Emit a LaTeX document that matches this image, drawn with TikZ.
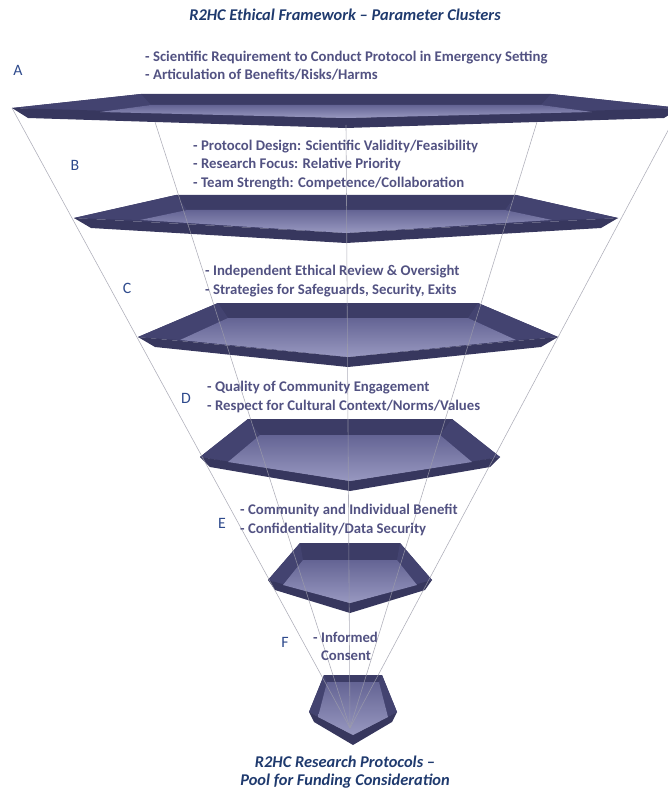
\documentclass[tikz,border=0pt]{standalone}
\usepackage{fontspec}
\setmainfont{Carlito}
\usepackage{tikz}

\definecolor{titlecol}{HTML}{1F3A6E}
\definecolor{lettercol}{HTML}{2E4A8C}
\definecolor{itemcol}{HTML}{525282}
\definecolor{rimcol}{HTML}{3C3C66}
\definecolor{sidecol}{HTML}{434370}
\definecolor{bandcol}{HTML}{37375E}
\definecolor{innertop}{HTML}{646494}
\definecolor{innerbot}{HTML}{9898C0}
\definecolor{raycol}{HTML}{9C9CAA}

\tikzset{
  itemtext/.style={text=itemcol, font=\bfseries\fontsize{12.6}{15.5}\selectfont, align=left, anchor=west, inner sep=0pt},
  letter/.style={text=lettercol, font=\fontsize{13.5}{15}\selectfont},
  heading/.style={text=titlecol, font=\bfseries\itshape\fontsize{14}{15.5}\selectfont, align=center},
  ray/.style={draw=raycol, line width=0.5pt, opacity=0.8}
}

\begin{document}
\begin{tikzpicture}[x=0.03cm,y=-0.03cm]
	\useasboundingbox (0,0) rectangle (667,791);
	
	% plates of the funnel, top to bottom
	% centre / top y / top half width / tip y / tip half width / front y / band inset / inner offsets
	\foreach \cx/\yt/\wt/\ym/\wm/\yf/\sb/\ia/\ir/\ib/\ie in {
		346/94/205/108/334/118/16/10/11/88/4,
		346/195/170/218/272/233/17/11/15/66/2,
		348/303/130/337/210/357/17/10/15/42/3,
		350/419/102/457/150/481/10/12/16/28/5,
		350/543/50/580/82/603/7/3/17/15/5,
		353/675/29/712/44/735/5/3/7/9/5}{
		% top face (rim)
		\fill[rimcol] (\cx-\wt,\yt) -- (\cx+\wt,\yt) -- (\cx+\wm,\ym) -- (\cx,\yf) -- (\cx-\wm,\ym) -- cycle;
		% side facets
		\fill[sidecol] (\cx-\wt,\yt) -- (\cx-\wt+\ia,\yt+\ir) -- (\cx-\wm+\ib,\ym+\ie) -- (\cx-\wm,\ym) -- cycle;
		\fill[sidecol] (\cx+\wt,\yt) -- (\cx+\wt-\ia,\yt+\ir) -- (\cx+\wm-\ib,\ym+\ie) -- (\cx+\wm,\ym) -- cycle;
		% front band
		\fill[bandcol] (\cx-\wm,\ym) -- (\cx,\yf) -- (\cx+\wm,\ym) -- (\cx+\wm-\sb,\ym+10) -- (\cx,\yf+10) -- (\cx-\wm+\sb,\ym+10) -- cycle;
		% inner face
		\shade[top color=innertop, bottom color=innerbot] (\cx-\wt+\ia,\yt+\ir) -- (\cx+\wt-\ia,\yt+\ir) -- (\cx+\wm-\ib,\ym+\ie) -- (\cx,\yf) -- (\cx-\wm+\ib,\ym+\ie) -- cycle;
	}
	
	% rays running down to the vanishing point
	\coordinate (v) at (350,728);
	\coordinate (p1) at (12,108);
	\coordinate (p2) at (155,122);
	\coordinate (p3) at (346,125);
	\coordinate (p4) at (537,122);
	\coordinate (p5) at (680,108);
	\foreach \p in {p1,p2,p3,p4,p5}
		\draw[ray] (\p) -- (v);
	
	% title
	\node[heading] (title) at (345,15) {R2HC Ethical Framework – Parameter Clusters};
	
	% cluster letters
	\node[letter] (la) at (18,70) {A};
	\node[letter] (lb) at (75,165) {B};
	\node[letter] (lc) at (127,288) {C};
	\node[letter] (ld) at (186,398) {D};
	\node[letter] (le) at (222,523) {E};
	\node[letter] (lf) at (285,642) {F};
	
	% parameter texts
	\node[itemtext] (ta) at (145,66) {- Scientific Requirement to Conduct Protocol in Emergency Setting\\- Articulation of Benefits/Risks/Harms};
	\node[itemtext] (tb) at (193,165) {- Protocol Design: Scientific Validity/Feasibility\\- Research Focus: Relative Priority\\- Team Strength: Competence/Collaboration};
	\node[itemtext] (tc) at (205,281) {- Independent Ethical Review \& Oversight\\- Strategies for Safeguards, Security, Exits};
	\node[itemtext] (td) at (207,397) {- Quality of Community Engagement\\- Respect for Cultural Context/Norms/Values};
	\node[itemtext] (te) at (240,520) {- Community and Individual Benefit\\- Confidentiality/Data Security};
	\node[itemtext] (tf) at (313,646) {- Informed\\\hphantom{- }Consent};
	
	% result
	\node[heading] (pool) at (345,772) {R2HC Research Protocols –\\Pool for Funding Consideration};
\end{tikzpicture}
\end{document}
